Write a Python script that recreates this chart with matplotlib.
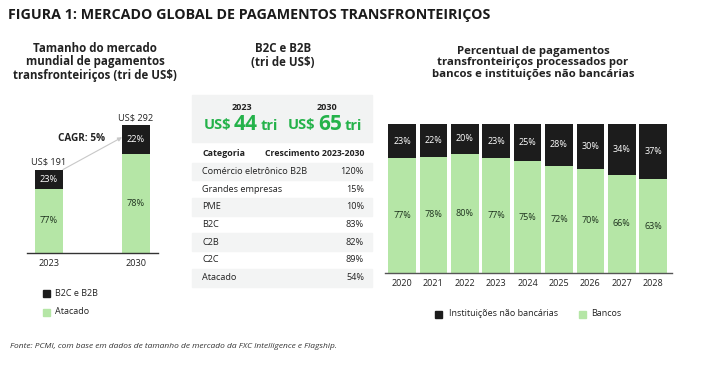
import matplotlib
matplotlib.use("Agg")
from matplotlib import pyplot as plt
from matplotlib.patches import Rectangle
import numpy as np

# --- data ---
market_years = ["2023", "2030"]
market_totals = [191, 292]              # tri de US$
market_b2c_b2b_pct = [23, 22]
market_atacado_pct = [77, 78]

b2c_headline_years = ["2023", "2030"]
b2c_headline_values = ["44", "65"]

table_categories = ["Comércio eletrônico B2B", "Grandes empresas", "PME",
                    "B2C", "C2B", "C2C", "Atacado"]
table_growth = ["120%", "15%", "10%", "83%", "82%", "89%", "54%"]

share_years = ["2020", "2021", "2022", "2023", "2024", "2025", "2026", "2027", "2028"]
share_nonbank = [23, 22, 20, 23, 25, 28, 30, 34, 37]
share_banks = [77, 78, 80, 77, 75, 72, 70, 66, 63]

DARK = "#1c1c1c"
GREEN = "#b5e6a6"
GREEN_TXT = "#24b24a"
LABEL_DARK = "#1f331f"
TXT = "#222222"

plt.rcParams["font.family"] = ["Open Sans", "DejaVu Sans"]

W, H = 705, 371
fig = plt.figure(figsize=(W / 100, H / 100), dpi=100)


def fx(x):
    return x / W


def fy(y):
    return 1 - y / H


def ftext(x, y, s, **kw):
    kw.setdefault("color", TXT)
    return fig.text(fx(x), fy(y), s, **kw)


def axes_px(left, top, right, bottom):
    return fig.add_axes([fx(left), fy(bottom), (right - left) / W, (bottom - top) / H])


# title
ftext(8, 15, "FIGURA 1: MERCADO GLOBAL DE PAGAMENTOS TRANSFRONTEIRIÇOS",
      fontsize=10.3, fontweight="bold", va="center", ha="left", color="#1a1a1a")

# ---------------- left panel ----------------
ftext(95, 62, "Tamanho do mercado\nmundial de pagamentos\ntransfronteiriços (tri de US$)",
      fontsize=8.3, fontweight="bold", ha="center", va="center", linespacing=1.1)

ax1 = axes_px(27, 115, 158, 253)
x1 = np.arange(len(market_years))
atacado_vals = [t * p / 100 for t, p in zip(market_totals, market_atacado_pct)]
b2c_vals = [t * p / 100 for t, p in zip(market_totals, market_b2c_b2b_pct)]
b_g = ax1.bar(x1, atacado_vals, width=0.32, color=GREEN)
b_d = ax1.bar(x1, b2c_vals, width=0.32, bottom=atacado_vals, color=DARK)
ax1.bar_label(b_g, labels=[f"{p}%" for p in market_atacado_pct], label_type="center",
              fontsize=6.6, color=LABEL_DARK)
ax1.bar_label(b_d, labels=[f"{p}%" for p in market_b2c_b2b_pct], label_type="center",
              fontsize=6.6, color="white")
for xi, t in zip(x1, market_totals):
    ax1.text(xi, t + 7, f"US$ {t}", ha="center", va="bottom", fontsize=6.6, color=TXT)
ax1.set_xlim(-0.253, 1.253)
ax1.set_ylim(0, 316)
ax1.annotate("", xy=(0.84, 265), xytext=(0.16, market_totals[0]),
             arrowprops=dict(arrowstyle="-|>", color="#c8c8c8", lw=0.8,
                             mutation_scale=6, shrinkA=0, shrinkB=0))
ax1.text(0.37, 263, "CAGR: 5%", ha="center", va="center", fontsize=7.2,
         fontweight="bold", color=TXT)
ax1.set_xticks(x1, market_years)
ax1.tick_params(axis="x", length=0, labelsize=6.6, colors=TXT, pad=4)
ax1.set_yticks([])
for s in ["top", "right", "left"]:
    ax1.spines[s].set_visible(False)
ax1.spines["bottom"].set_color("#333333")
ax1.spines["bottom"].set_linewidth(1.0)
ax1.patch.set_alpha(0)

fig.patches.append(Rectangle((fx(43), fy(296.5)), 7 / W, 7 / H, color=DARK,
                             transform=fig.transFigure, figure=fig))
ftext(55, 293, "B2C e B2B", fontsize=6.5, va="center")
fig.patches.append(Rectangle((fx(43), fy(315.5)), 7 / W, 7 / H, color=GREEN,
                             transform=fig.transFigure, figure=fig))
ftext(55, 312, "Atacado", fontsize=6.5, va="center")

# ---------------- middle panel ----------------
ftext(283, 56, "B2C e B2B\n(tri de US$)", fontsize=8.3, fontweight="bold",
      ha="center", va="center", linespacing=1.1)

fig.patches.append(Rectangle((fx(192), fy(142)), 180 / W, 47 / H, color="#f2f3f3",
                             transform=fig.transFigure, figure=fig, zorder=0))

row_y0, row_h = 171.5, 17.7
for i, (cat, g) in enumerate(zip(table_categories, table_growth)):
    yc = row_y0 + i * row_h
    if i % 2 == 0:
        fig.patches.append(Rectangle((fx(192), fy(yc + row_h / 2)), 180 / W, row_h / H,
                                     color="#f3f4f4", transform=fig.transFigure,
                                     figure=fig, zorder=0))
    ftext(202, yc, cat, fontsize=6.6, va="center", ha="left")
    ftext(364, yc, g, fontsize=6.6, va="center", ha="right")
ftext(202, 153, "Categoria", fontsize=6.4, fontweight="bold", va="center", ha="left")
ftext(364, 153, "Crescimento 2023-2030", fontsize=6.3, fontweight="bold",
      va="center", ha="right")

renderer = fig.canvas.get_renderer()
for yr, val, xc, yx in zip(b2c_headline_years, b2c_headline_values, [246, 330], [242, 327]):
    ftext(yx, 108, yr, fontsize=6.5, fontweight="bold", ha="center", va="center")
    t_num = ftext(xc, 129.5, val, fontsize=15, fontweight="bold", ha="center",
                  va="baseline", color=GREEN_TXT)
    bb = t_num.get_window_extent(renderer)
    fig.text(bb.x0 / W - 3 / W, fy(129.5), "US$", fontsize=10.5, fontweight="bold",
             ha="right", va="baseline", color=GREEN_TXT)
    fig.text(bb.x1 / W + 3 / W, fy(129.5), "tri", fontsize=10.5, fontweight="bold",
             ha="left", va="baseline", color=GREEN_TXT)

# ---------------- right panel ----------------
ftext(533, 63, "Percentual de pagamentos\ntransfronteiriços processados por\nbancos e instituições não bancárias",
      fontsize=8.2, fontweight="bold", ha="center", va="center", linespacing=1.1)

ax2 = axes_px(385, 124, 672, 273)
x2 = np.arange(len(share_years))
g2 = ax2.bar(x2, share_banks, width=0.88, color=GREEN)
d2 = ax2.bar(x2, share_nonbank, width=0.88, bottom=share_banks, color=DARK)
ax2.bar_label(g2, labels=[f"{v}%" for v in share_banks], label_type="center",
              fontsize=6.5, color=LABEL_DARK)
ax2.bar_label(d2, labels=[f"{v}%" for v in share_nonbank], label_type="center",
              fontsize=6.5, color="white")
ax2.set_xlim(-0.54, 8.6)
ax2.set_ylim(0, 100)
ax2.set_xticks(x2, share_years)
ax2.tick_params(axis="x", length=0, labelsize=6.5, colors=TXT, pad=4)
ax2.set_yticks([])
for s in ["top", "right", "left"]:
    ax2.spines[s].set_visible(False)
ax2.spines["bottom"].set_color("#555555")
ax2.spines["bottom"].set_linewidth(1.0)
ax2.patch.set_alpha(0)

fig.patches.append(Rectangle((fx(435), fy(317.5)), 7 / W, 7 / H, color=DARK,
                             transform=fig.transFigure, figure=fig))
ftext(449, 314, "Instituições não bancárias", fontsize=6.5, va="center")
fig.patches.append(Rectangle((fx(579), fy(317.5)), 7 / W, 7 / H, color=GREEN,
                             transform=fig.transFigure, figure=fig))
ftext(591, 314, "Bancos", fontsize=6.5, va="center")

# footnote
ftext(10, 347, "Fonte: PCMI, com base em dados de tamanho de mercado da FXC Intelligence e Flagship.",
      fontsize=6.05, style="italic", va="center", color="#333333")

fig.savefig("out.png", dpi=100)
